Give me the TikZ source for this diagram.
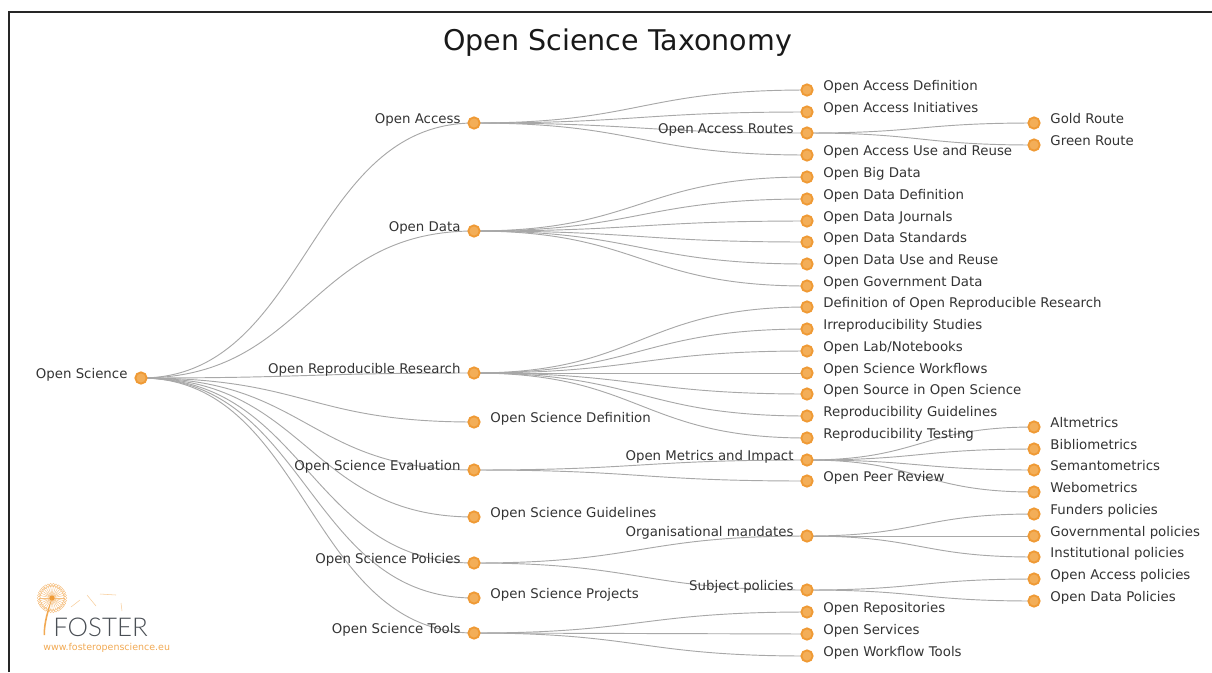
\documentclass[tikz,border=0pt]{standalone}
\usepackage{fontspec}
\setmainfont{DejaVu Sans}
\newfontfamily\logofont{Lato Light}
\usetikzlibrary{calc,backgrounds}
\definecolor{DotOrange}{HTML}{EF9A35}
\definecolor{DotFill}{HTML}{F3AE58}
\definecolor{LinkGray}{HTML}{A8A8A8}
\definecolor{TextDark}{HTML}{333333}
\definecolor{LogoGray}{HTML}{4A4F55}

\begin{document}
\begin{tikzpicture}[
  x=0.75pt, y=-0.75pt,
  dot/.style={circle, draw=DotOrange, fill=DotFill, line width=1.4pt, inner sep=0pt, minimum size=8.5pt},
  labeltext/.style={font=\fontsize{10}{12}\selectfont, text=TextDark, inner sep=0pt, text height=7pt, text depth=2pt},
  textright/.style={label={[labeltext, anchor=west, xshift=7.2pt, yshift=2.2pt]east:#1}},
  textleft/.style={label={[labeltext, anchor=east, xshift=-5pt, yshift=2.2pt]west:#1}},
  link/.style={draw=LinkGray, line width=0.7pt, to path={
    .. controls ($(\tikztostart)!0.5!(\tikztostart -| \tikztotarget)$)
    and ($(\tikztotarget)!0.5!(\tikztostart |- \tikztotarget)$) .. (\tikztotarget)}}
]
\useasboundingbox (0,0) rectangle (1212,672);

% Frame
\coordinate (frameA) at (9,672);
\coordinate (frameB) at (9,12);
\coordinate (frameC) at (1212,12);
\draw[line width=1pt, black!85] (frameA) -- (frameB) -- (frameC);

% Title
\node[font=\fontsize{21.4}{26}\selectfont, text=black!90] (title) at (617.5,43) {Open Science Taxonomy};

% Root
\node[dot, textleft={Open Science}] (root) at (141,378) {};

% First level, text on the left
\foreach \name/\y/\txt in {access/123/{Open Access}, data/231/{Open Data},
  repro/373/{Open Reproducible Research}, evaluation/470/{Open Science Evaluation},
  policies/563/{Open Science Policies}, tools/633/{Open Science Tools}} {
  \node[dot, textleft={\txt}] (\name) at (474,\y) {};
}

% First level, text on the right
\foreach \name/\y/\txt in {definition/422/{Open Science Definition},
  guidelines/517/{Open Science Guidelines}, projects/598/{Open Science Projects}} {
  \node[dot, textright={\txt}] (\name) at (474,\y) {};
}

% Second level, text on the left
\foreach \name/\y/\txt in {routes/133/{Open Access Routes}, metrics/460/{Open Metrics and Impact},
  mandates/536/{Organisational mandates}, subject/590/{Subject policies}} {
  \node[dot, textleft={\txt}] (\name) at (807,\y) {};
}

% Second level, text on the right
\foreach \name/\y/\txt in {oadef/90/{Open Access Definition}, oainit/112/{Open Access Initiatives},
  oause/155/{Open Access Use and Reuse}, bigdata/177/{Open Big Data},
  oddef/199/{Open Data Definition}, odjour/221/{Open Data Journals},
  odstd/242/{Open Data Standards}, oduse/264/{Open Data Use and Reuse},
  odgov/286/{Open Government Data}, rrdef/307/{Definition of Open Reproducible Research},
  irrepro/329/{Irreproducibility Studies}, lab/351/{Open Lab/Notebooks},
  workflows/373/{Open Science Workflows}, source/394/{Open Source in Open Science},
  rguide/416/{Reproducibility Guidelines}, rtest/438/{Reproducibility Testing},
  peer/481/{Open Peer Review}, repos/612/{Open Repositories},
  services/634/{Open Services}, wftools/656/{Open Workflow Tools}} {
  \node[dot, textright={\txt}] (\name) at (807,\y) {};
}

% Third level
\foreach \name/\y/\txt in {gold/123/{Gold Route}, green/145/{Green Route},
  altm/427/{Altmetrics}, biblio/449/{Bibliometrics}, semanto/470/{Semantometrics},
  webo/492/{Webometrics}, funders/514/{Funders policies}, govern/536/{Governmental policies},
  instit/557/{Institutional policies}, oapol/579/{Open Access policies}, odpol/601/{Open Data Policies}} {
  \node[dot, textright={\txt}] (\name) at (1034,\y) {};
}

% Links
\begin{scope}[on background layer]
  \foreach \a/\b in {root/access, root/data, root/repro, root/definition, root/evaluation,
    root/guidelines, root/policies, root/projects, root/tools,
    access/oadef, access/oainit, access/routes, access/oause,
    routes/gold, routes/green,
    data/bigdata, data/oddef, data/odjour, data/odstd, data/oduse, data/odgov,
    repro/rrdef, repro/irrepro, repro/lab, repro/workflows, repro/source, repro/rguide, repro/rtest,
    evaluation/metrics, evaluation/peer,
    metrics/altm, metrics/biblio, metrics/semanto, metrics/webo,
    policies/mandates, policies/subject,
    mandates/funders, mandates/govern, mandates/instit,
    subject/oapol, subject/odpol,
    tools/repos, tools/services, tools/wftools} {
    \draw[link] (\a.center) to (\b.center);
  }
\end{scope}

% Logo
\coordinate (seedhead) at (52,598);
\coordinate (stemfoot) at (45,635);
\foreach \ang in {0,12,...,348} {
  \draw[DotOrange!65, line width=0.3pt] (seedhead) -- ++(\ang:13);
  \draw[DotOrange!65, line width=0.3pt] (seedhead) ++(\ang:13) circle[radius=1.8];
}
\fill[DotOrange] (seedhead) circle[radius=2.6];
\fill[DotOrange!85] (seedhead) .. controls (49,612) and (45,622) .. (stemfoot)
  -- (43.5,635) .. controls (43.5,622) and (47,610) .. (seedhead);
\foreach \a/\b/\c/\d in {71/607/80/600, 87/595/96/606, 100/594/116/595, 121/603/122/611} {
  \draw[DotOrange!50, line width=0.4pt] (\a,\b) -- (\c,\d);
}
\node[font=\logofont\fontsize{19.4}{24}\selectfont, text=LogoGray, anchor=west, inner sep=0pt] (foster) at (53,627) {FOSTER};
\node[font=\fontsize{7.1}{8}\selectfont, text=DotOrange!85, anchor=west, inner sep=0pt] (website) at (43,648) {www.fosteropenscience.eu};
\end{tikzpicture}
\end{document}
